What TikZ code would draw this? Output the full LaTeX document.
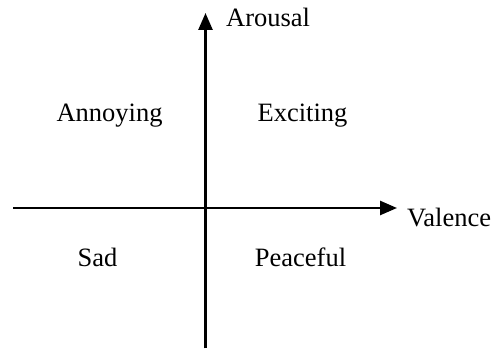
\documentclass[tikz,border=0pt]{standalone}
\usepackage{fontspec}
\setmainfont{Liberation Serif}
\usetikzlibrary{arrows.meta}
\begin{document}
\begin{tikzpicture}[x=1pt,y=1pt,
  axis/.style={line width=2.6pt,-{Triangle[length=17pt,width=14pt]}},
  lbl/.style={font=\fontsize{26.5}{31}\selectfont,inner sep=0pt,anchor=base},
  axlbl/.style={font=\fontsize{26.5}{31}\selectfont,inner sep=0pt,anchor=base west}]
\useasboundingbox (0,0) rectangle (492,350);
\coordinate (vb) at (205.5,1.5);
\coordinate (vt) at (205.5,337);
\coordinate (hl) at (13,142);
\coordinate (hr) at (397,142);
\draw[axis] (vb) -- (vt);
\draw[axis] (hl) -- (hr);
\node[axlbl] (arousal) at (226,323) {Arousal};
\node[axlbl] (valence) at (407,123) {Valence};
\node[lbl] (annoying) at (109.5,228) {Annoying};
\node[lbl] (exciting) at (302.5,228) {Exciting};
\node[lbl] (sad) at (97.5,83) {Sad};
\node[lbl] (peaceful) at (300.5,83) {Peaceful};
\end{tikzpicture}
\end{document}
